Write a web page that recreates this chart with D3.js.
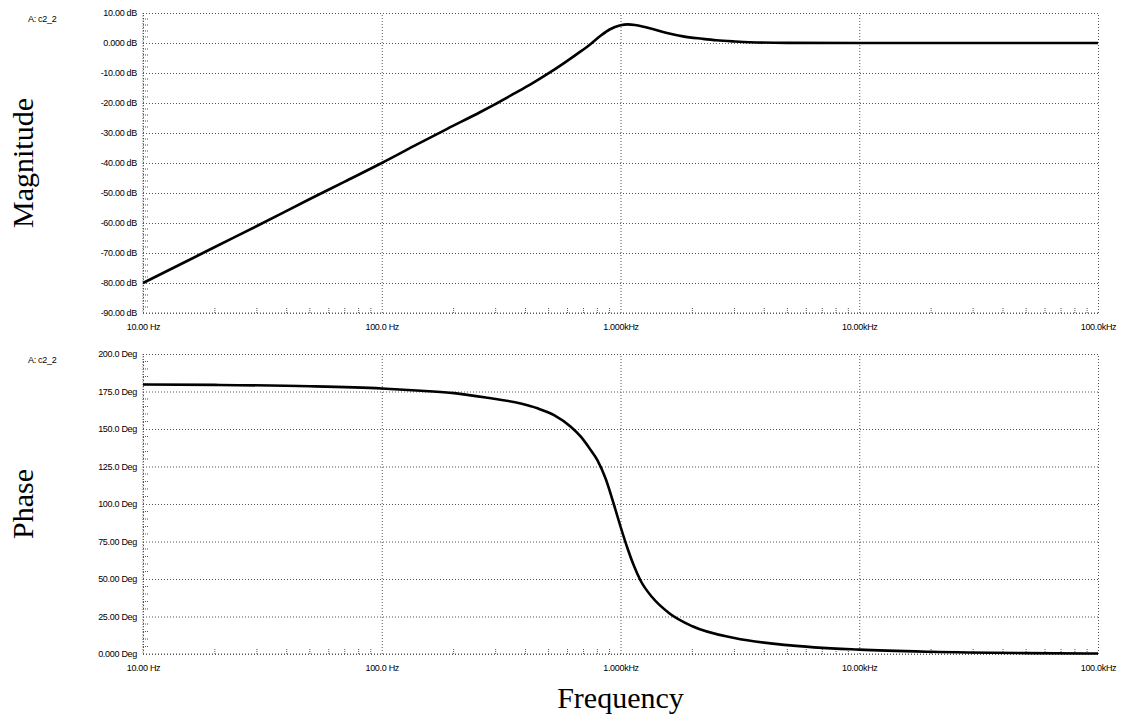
<!DOCTYPE html>
<html>
<head>
<meta charset="utf-8">
<script src="https://cdn.jsdelivr.net/npm/d3@7"></script>
<style>
  html, body { margin: 0; padding: 0; background: #fff; }
  svg { display: block; }
  .tick text { font-family: "Liberation Sans", Arial, sans-serif; font-size: 9px; fill: #000; letter-spacing: -0.3px; }
</style>
</head>
<body>
<svg id="chart" width="1128" height="722"></svg>
<script>
// ---------------- data ----------------
const magFreq = [10, 15, 20, 30, 50, 70, 100, 136, 188, 259, 295, 358, 420, 493, 580, 681, 750, 825, 900, 1000, 1070, 1150, 1250, 1324, 1550, 1828, 2200, 2522, 3000, 3477, 5000, 10000, 100000];
const magDB   = [-80, -73, -68, -61, -52, -46.2, -40, -34.4, -28.6, -23, -20.6, -16.9, -13.8, -10.4, -6.7, -2.8, -0.3, 2.4, 4.5, 5.9, 6.2, 6.0, 5.4, 4.9, 3.4, 2.2, 1.4, 0.9, 0.5, 0.25, 0.05, 0, 0];

const phaseFreq = [10, 20, 50, 100, 146, 201, 277, 382, 449, 527, 619, 682, 750, 800, 866, 937, 1000, 1067, 1137, 1213, 1358, 1600, 2000, 3000, 5000, 10000, 20000, 50000, 100000];
const phaseDeg  = [179.7, 179.4, 178.5, 177, 175.5, 173.9, 170.8, 167, 163.8, 159.3, 151.5, 144.9, 136, 129.3, 117, 100, 85, 71, 59, 49, 37.8, 27.2, 18.5, 10.6, 5.9, 2.9, 1.45, 0.6, 0.3];

const freqTicks = [10, 100, 1000, 10000, 100000];
const freqTickLabels = ["10.00 Hz", "100.0 Hz", "1.000kHz", "10.00kHz", "100.0kHz"];
const magTicks = [10, 0, -10, -20, -30, -40, -50, -60, -70, -80, -90];
const magTickLabels = ["10.00 dB", "0.000 dB", "-10.00 dB", "-20.00 dB", "-30.00 dB", "-40.00 dB", "-50.00 dB", "-60.00 dB", "-70.00 dB", "-80.00 dB", "-90.00 dB"];
const phaseTicks = [200, 175, 150, 125, 100, 75, 50, 25, 0];
const phaseTickLabels = ["200.0 Deg", "175.0 Deg", "150.0 Deg", "125.0 Deg", "100.0 Deg", "75.00 Deg", "50.00 Deg", "25.00 Deg", "0.000 Deg"];
const traceName = "A: c2_2";

// ---------------- layout ----------------
const svg = d3.select("#chart");
const left = 143, right = 1098;
const panels = [
  { top: 13, bottom: 313, domain: [-90, 10], step: 2, ticks: magTicks, labels: magTickLabels, fx: magFreq, fy: magDB, title: "Magnitude" },
  { top: 354, bottom: 654, domain: [0, 200], step: 5, ticks: phaseTicks, labels: phaseTickLabels, fx: phaseFreq, fy: phaseDeg, title: "Phase" }
];

const x = d3.scaleLog().domain([10, 100000]).range([left, right]);
const gridColor = "#555";

panels.forEach(p => {
  const y = d3.scaleLinear().domain(p.domain).range([p.bottom, p.top]);
  const g = svg.append("g");

  // y axis with gridlines
  const yAxis = d3.axisLeft(y)
    .tickValues(p.ticks)
    .tickFormat((d, i) => p.labels[i])
    .tickSize(-(right - left))
    .tickPadding(6);
  const ya = g.append("g").attr("transform", `translate(${left},0)`).call(yAxis);
  ya.select(".domain").remove();
  ya.selectAll(".tick line").attr("stroke", gridColor).attr("stroke-dasharray", "1,2").attr("stroke-width", 1);

  // x axis with gridlines
  const xAxis = d3.axisBottom(x)
    .tickValues(freqTicks)
    .tickFormat((d, i) => freqTickLabels[i])
    .tickSize(-(p.bottom - p.top))
    .tickPadding(11);
  const xa = g.append("g").attr("transform", `translate(0,${p.bottom})`).call(xAxis);
  xa.select(".domain").remove();
  xa.selectAll(".tick line").attr("stroke", gridColor).attr("stroke-dasharray", "1,2").attr("stroke-width", 1);

  // frame left / bottom
  g.append("line").attr("x1", left).attr("x2", left).attr("y1", p.top).attr("y2", p.bottom)
    .attr("stroke", gridColor).attr("stroke-dasharray", "1,1.5");
  g.append("line").attr("x1", left).attr("x2", right).attr("y1", p.bottom).attr("y2", p.bottom)
    .attr("stroke", gridColor).attr("stroke-dasharray", "1,2");

  // y minor ticks
  const ymin = d3.range(p.domain[0], p.domain[1] + 0.001, p.step).filter(v => !p.ticks.includes(v));
  g.selectAll(null).data(ymin).enter().append("line")
    .attr("x1", left).attr("x2", left + 5)
    .attr("y1", d => y(d)).attr("y2", d => y(d))
    .attr("stroke", gridColor).attr("stroke-dasharray", "1,1");

  // x minor ticks
  const xmin = [];
  [10, 100, 1000, 10000].forEach(dec => { for (let k = 2; k <= 9; k++) xmin.push(dec * k); });
  g.selectAll(null).data(xmin).enter().append("line")
    .attr("x1", d => x(d)).attr("x2", d => x(d))
    .attr("y1", p.bottom).attr("y2", p.bottom - 6)
    .attr("stroke", gridColor).attr("stroke-dasharray", "1,1");

  // curve
  const pts = p.fx.map((f, i) => [f, p.fy[i]]);
  const line = d3.line().x(d => x(d[0])).y(d => y(d[1])).curve(d3.curveMonotoneX);
  g.append("path").datum(pts).attr("d", line)
    .attr("fill", "none").attr("stroke", "#000").attr("stroke-width", 2.6).attr("stroke-linejoin", "round");

  // trace name
  g.append("text").attr("x", 28).attr("y", p.top + 9)
    .style("font-family", "Liberation Sans, Arial, sans-serif").style("font-size", "9px").style("letter-spacing", "-0.3px")
    .text(traceName);

  // panel title
  g.append("text")
    .attr("transform", `translate(33,${(p.top + p.bottom) / 2}) rotate(-90)`)
    .attr("text-anchor", "middle")
    .style("font-family", "Liberation Serif, Times New Roman, serif").style("font-size", "30px")
    .text(p.title);
});

svg.append("text").attr("x", (left + right) / 2).attr("y", 708)
  .attr("text-anchor", "middle")
  .style("font-family", "Liberation Serif, Times New Roman, serif").style("font-size", "30px")
  .text("Frequency");
</script>
</body>
</html>
